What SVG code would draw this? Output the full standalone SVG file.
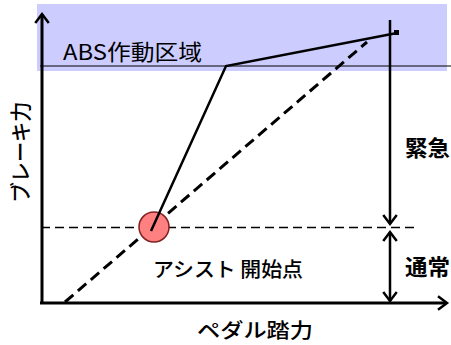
<svg xmlns="http://www.w3.org/2000/svg" width="451" height="345" viewBox="0 0 451 345">
<style>
text{font-family:"Noto Sans CJK JP","Noto Sans",sans-serif;fill:#000}
.ax{stroke:#000;stroke-width:3;fill:none}
.ln{stroke:#000;stroke-width:2.5;fill:none}
.ah{stroke:#000;stroke-width:2.5;fill:none;stroke-linecap:square}
</style>
<rect x="37" y="4" width="410" height="67" fill="#ccccff"/>
<g id="abs-line"><line x1="40" y1="66" x2="451" y2="66" stroke="#000" stroke-width="1.2"/></g>
<g id="abs-label"><text x="63" y="60" font-size="22" textLength="139" lengthAdjust="spacingAndGlyphs">ABS作動区域</text></g>
<g id="connectors">
<g id="y-axis"><line class="ax" x1="42" y1="14" x2="42" y2="304"/><polyline class="ah" points="36,22 42,14 48,22"/></g>
<g id="x-axis"><line class="ax" x1="40" y1="303" x2="446" y2="303"/><polyline class="ah" points="439,297 447,303 439,309"/></g>
<line x1="41" y1="227.5" x2="418" y2="227.5" stroke="#000" stroke-width="1.5" stroke-dasharray="9,5"/>
<line x1="65" y1="302" x2="367" y2="42" stroke="#000" stroke-width="3" stroke-dasharray="11,6"/>
<g id="emergency-arrow"><line class="ln" x1="390" y1="20" x2="390" y2="224"/><polyline class="ah" points="384,216 390,224 396,216"/></g>
<g id="normal-arrow"><line class="ln" x1="390" y1="232" x2="390" y2="301"/><polyline class="ah" points="384,240 390,232 396,240"/><polyline class="ah" points="384,293 390,301 396,293"/></g>
</g>
<g id="assist-point"><circle cx="154" cy="227" r="15" fill="#ff8080" stroke="#802020" stroke-width="1.5"/></g>
<g id="curve"><polyline class="ln" points="151,231 226,66 397,33"/><rect x="394" y="30" width="5" height="5" fill="#000"/></g>
<g id="y-label"><text transform="translate(28,152) rotate(-90)" font-size="21" font-weight="500" text-anchor="middle" textLength="101" lengthAdjust="spacingAndGlyphs">ブレーキ力</text></g>
<g id="emergency-label"><text x="405" y="156" font-size="22" font-weight="bold" textLength="45" lengthAdjust="spacingAndGlyphs">緊急</text></g>
<g id="normal-label"><text x="405" y="275" font-size="22" font-weight="bold" textLength="45" lengthAdjust="spacingAndGlyphs">通常</text></g>
<g id="assist-label"><text x="153" y="277" font-size="20" font-weight="500" textLength="150" lengthAdjust="spacingAndGlyphs">アシスト 開始点</text></g>
<g id="x-label"><text x="197" y="338" font-size="20" font-weight="500" textLength="116" lengthAdjust="spacingAndGlyphs">ペダル踏力</text></g>
</svg>
